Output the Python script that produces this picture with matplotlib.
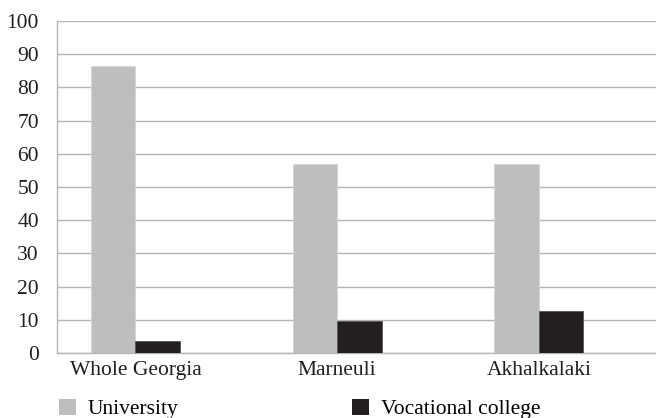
import matplotlib
matplotlib.use("Agg")
import matplotlib.pyplot as plt
import numpy as np
from matplotlib.patches import Patch

categories = ["Whole Georgia", "Marneuli", "Akhalkalaki"]
university = [86.5, 57, 57]
vocational = [3.7, 9.7, 12.8]
series_names = ["University", "Vocational college"]
yticks = [0, 10, 20, 30, 40, 50, 60, 70, 80, 90, 100]

plt.rcParams['font.family'] = ['Liberation Serif', 'DejaVu Serif']
W, H = 656, 418
fig = plt.figure(figsize=(W/100, H/100), dpi=100)
ax = fig.add_axes([57/W, 1-353/H, 1-57/W, (353-21)/H])

gray = "#bcbec0"
black = "#231f20"
fs = 15.5
x = np.arange(len(categories))
bw = 0.221
ax.bar(x - bw/2, university, bw, color=gray, edgecolor="#d4d5d7", linewidth=0.6, zorder=3)
ax.bar(x + bw/2, vocational, bw, color=black, edgecolor="#555555", linewidth=0.6, zorder=3)

ax.set_xlim(-0.389, 2.581)
ax.set_ylim(0, 100)
ax.set_yticks(yticks)
ax.set_xticks(x)
ax.set_xticklabels(categories)
ax.yaxis.grid(True, color="#b4b4b4", linewidth=1.0, zorder=0)
ax.set_axisbelow(True)
for s in ["top", "right"]:
    ax.spines[s].set_visible(False)
for s in ["left", "bottom"]:
    ax.spines[s].set_color("#b4b4b4")
    ax.spines[s].set_linewidth(1.0)
ax.tick_params(axis='both', length=0, labelsize=fs, colors="#231f20")
ax.tick_params(axis='y', pad=13)
ax.tick_params(axis='x', pad=6)

h1 = Patch(facecolor=gray, edgecolor='none')
h2 = Patch(facecolor=black, edgecolor='none')
kw = dict(frameon=False, fontsize=fs, handlelength=0.8, handleheight=0.8,
          handletextpad=0.55, borderpad=0, borderaxespad=0, loc='center left')
fig.legend([h1], [series_names[0]], bbox_to_anchor=(59/W, 1-409/H), **kw)
fig.legend([h2], [series_names[1]], bbox_to_anchor=(352/W, 1-409/H), **kw)

fig.savefig("out.png", dpi=100)
